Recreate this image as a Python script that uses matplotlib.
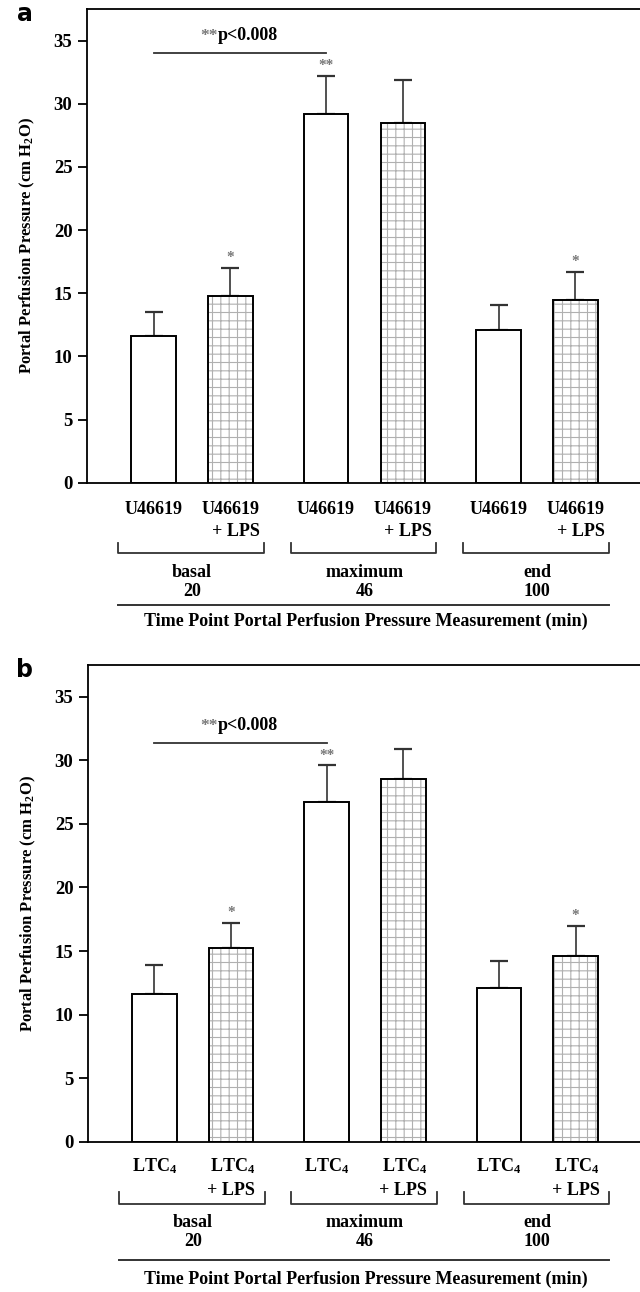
import numpy as np
import matplotlib.pyplot as plt

plt.rcParams['font.family'] = ['Liberation Serif', 'DejaVu Serif']
plt.rcParams['font.weight'] = 'bold'
plt.rcParams['axes.labelweight'] = 'bold'
plt.rcParams['mathtext.fontset'] = 'custom'
plt.rcParams['mathtext.rm'] = 'Liberation Serif:bold'
plt.rcParams['mathtext.bf'] = 'Liberation Serif:bold'
plt.rcParams['mathtext.it'] = 'Liberation Serif:bold'
plt.rcParams['hatch.linewidth'] = 0.8

# data
groups = ['basal\n20', 'maximum\n46', 'end\n100']
means_a = [11.6, 14.8, 29.2, 28.5, 12.1, 14.5]
errs_a = [1.9, 2.2, 3.0, 3.4, 2.0, 2.2]
means_b = [11.6, 15.2, 26.7, 28.5, 12.1, 14.6]
errs_b = [2.3, 2.0, 2.9, 2.4, 2.1, 2.4]
stars = ['', '*', '**', '', '', '*']
labels_a = ['U46619', 'U46619\n+ LPS'] * 3
labels_b = ['LTC$_4$', 'LTC$_4$\n+ LPS'] * 3
sig_a = 34.0
sig_b = 31.4
sig_label = 'p<0.008'
xtitle = 'Time Point Portal Perfusion Pressure Measurement (min)'
ytitle = 'Portal Perfusion Pressure (cm H$_2$O)'

pos = np.array([0, 0.446, 1, 1.446, 2, 2.446])
w = 0.258

fig = plt.figure(figsize=(6.4, 12.92), dpi=100)


def panel(rect, means, errs, labels, sig_y, letter, offs):
    ax = fig.add_axes(rect)
    ax.bar(pos[0::2], means[0::2], w, color='white', edgecolor='black', lw=1.4, zorder=2)
    ax.bar(pos[1::2], means[1::2], w, color='white', edgecolor='#b0b0b0', hatch='++', lw=0, zorder=2)
    ax.bar(pos[1::2], means[1::2], w, fill=False, edgecolor='black', lw=1.4, zorder=3)
    ax.errorbar(pos, means, yerr=[np.zeros(6), errs], fmt='none', ecolor='#333333',
                elinewidth=1.2, capsize=6.5, capthick=1.6, zorder=1)
    for x, m, e, s in zip(pos, means, errs, stars):
        if s:
            ax.text(x, m + e + 0.3, s, ha='center', va='bottom', fontsize=11, color='#777777')
    # significance line
    ax.plot([pos[0], pos[2]], [sig_y, sig_y], color='#333333', lw=1.3)
    ax.text(0.37, sig_y + 0.7, '**', ha='right', va='bottom', fontsize=12.5, color='#777777')
    ax.text(0.37, sig_y + 0.7, sig_label, ha='left', va='bottom', fontsize=13)

    ax.set_xlim(-0.3855, 2.82)
    ax.set_ylim(0, 37.5)
    ax.set_yticks(range(0, 36, 5))
    ax.set_xticks([])
    ax.spines['right'].set_visible(False)
    for s in ['left', 'top', 'bottom']:
        ax.spines[s].set_linewidth(1.3)
    ax.tick_params(axis='y', direction='out', length=6.5, width=1.3, labelsize=13.5, pad=4)
    ax.set_ylabel(ytitle, fontsize=12, labelpad=12)

    tr = ax.get_xaxis_transform()
    h = rect[3] * 1292
    f = lambda px: -px / h
    for x, lab in zip(pos, labels):
        ax.text(x, f(offs[0]), lab, transform=tr, ha='center', va='top', fontsize=13,
                multialignment='right', linespacing=1.4)
    for g in range(3):
        x0 = pos[2 * g] - w / 2 - 0.075
        x1 = pos[2 * g + 1] + w / 2 + 0.065
        ax.plot([x0, x0, x1, x1], [f(offs[1]), f(offs[2]), f(offs[2]), f(offs[1])],
                transform=tr, color='#333333', lw=1.3, clip_on=False)
        ax.text((pos[2 * g] + pos[2 * g + 1]) / 2, f(offs[3]), groups[g], transform=tr,
                ha='center', va='top', fontsize=13, linespacing=1.2)
    ax.plot([pos[0] - w / 2 - 0.075, pos[5] + w / 2 + 0.065], [f(offs[4])] * 2,
            transform=tr, color='#333333', lw=1.4, clip_on=False)
    ax.text(1.23, f(offs[5]), xtitle, transform=tr, ha='center', va='top', fontsize=13)
    fig.text(25 / 640, rect[1] + rect[3] - 5 / 1292, letter, family='DejaVu Sans',
             fontsize=17, fontweight='bold', ha='center', va='center')
    return ax


panel([87 / 640, 1 - 482.7 / 1292, 1 - 87 / 640, 473.7 / 1292], means_a, errs_a, labels_a,
      sig_a, 'a', [18, 60, 70, 81, 122, 130])
panel([88 / 640, 1 - 1141.7 / 1292, 1 - 88 / 640, 476.7 / 1292], means_b, errs_b, labels_b,
      sig_b, 'b', [15, 50, 62, 72, 118, 129])

fig.savefig('out.png', dpi=100)
